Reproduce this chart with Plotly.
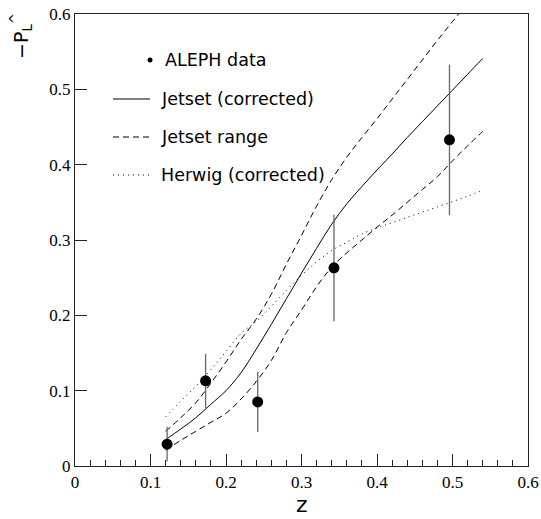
import plotly.graph_objects as go

# ALEPH data
data_z = [0.122, 0.173, 0.242, 0.343, 0.496]
data_y = [0.029, 0.113, 0.085, 0.263, 0.433]
data_err = [0.023, 0.036, 0.040, 0.071, 0.100]

# model curves
curve_z = [0.12, 0.14, 0.16, 0.18, 0.20, 0.22, 0.24, 0.26, 0.28, 0.30, 0.32,
           0.34, 0.36, 0.38, 0.40, 0.42, 0.44, 0.46, 0.48, 0.50, 0.52, 0.54]
jetset = [0.035, 0.049, 0.064, 0.082, 0.100, 0.124, 0.155, 0.188, 0.222, 0.256, 0.289,
          0.321, 0.348, 0.371, 0.393, 0.414, 0.436, 0.457, 0.478, 0.499, 0.520, 0.541]
jetset_hi = [0.046, 0.064, 0.084, 0.110, 0.138, 0.168, 0.195, 0.228, 0.268, 0.306, 0.345,
             0.380, 0.410, 0.436, 0.461, 0.487, 0.513, 0.539, 0.565, 0.590, 0.615, 0.640]
jetset_lo = [0.021, 0.034, 0.046, 0.058, 0.070, 0.089, 0.112, 0.140, 0.177, 0.207, 0.238,
             0.264, 0.283, 0.300, 0.317, 0.333, 0.350, 0.367, 0.384, 0.405, 0.425, 0.444]
herwig = [0.065, 0.086, 0.106, 0.128, 0.152, 0.176, 0.192, 0.212, 0.233, 0.253, 0.271,
          0.286, 0.297, 0.308, 0.316, 0.323, 0.330, 0.337, 0.344, 0.351, 0.358, 0.366]

x_ticks = [0, 0.1, 0.2, 0.3, 0.4, 0.5, 0.6]
y_ticks = [0, 0.1, 0.2, 0.3, 0.4, 0.5, 0.6]

legend_labels = ["ALEPH data", "Jetset (corrected)", "Jetset range", "Herwig (corrected)"]

DASH = "6px,4px"
DOT = "1px,4px"

L, T = 75, 14
PW, PH = 453, 452
W, H = 541, 519

fig = go.Figure()
fig.add_trace(go.Scatter(x=curve_z, y=jetset_hi, mode="lines", line=dict(color="black", width=1, dash=DASH, shape="spline")))
fig.add_trace(go.Scatter(x=curve_z, y=jetset_lo, mode="lines", line=dict(color="black", width=1, dash=DASH, shape="spline")))
fig.add_trace(go.Scatter(x=curve_z, y=herwig, mode="lines", line=dict(color="black", width=1, dash=DOT, shape="spline")))
fig.add_trace(go.Scatter(x=curve_z, y=jetset, mode="lines", line=dict(color="black", width=1, shape="spline")))
fig.add_trace(go.Scatter(x=data_z, y=data_y, mode="markers",
                         marker=dict(color="black", size=11),
                         error_y=dict(type="data", array=data_err, width=0, thickness=1.3, color="#666")))

# legend (drawn by hand); positions given in window pixels
def px_x(p):
    return (p - L) / PW

def px_y(p):
    return 1 - (p - T) / PH

legend_rows = [60, 99, 137, 175]
legend_dash = [None, "solid", DASH, DOT]
for i, (lab, row) in enumerate(zip(legend_labels, legend_rows)):
    fig.add_annotation(xref="paper", yref="paper", x=px_x(163 if i == 0 else 159), y=px_y(row),
                       text=lab, showarrow=False, xanchor="left", yanchor="middle",
                       font=dict(family="DejaVu Sans", size=17.5, color="black"))
    if i == 0:
        fig.add_shape(type="circle", xref="paper", yref="paper",
                      x0=px_x(147.5), x1=px_x(152.5), y0=px_y(row - 2.5), y1=px_y(row + 2.5),
                      fillcolor="black", line=dict(color="black", width=0))
    else:
        fig.add_shape(type="line", xref="paper", yref="paper",
                      x0=px_x(113), x1=px_x(150), y0=px_y(row), y1=px_y(row),
                      line=dict(color="black", width=1, dash=legend_dash[i]))

# axis titles
fig.add_annotation(xref="paper", yref="paper", x=px_x(302), y=px_y(519), text="z",
                   showarrow=False, xanchor="center", yanchor="bottom",
                   font=dict(family="DejaVu Sans", size=22, color="black"))
fig.add_annotation(xref="paper", yref="paper", x=px_x(22), y=px_y(36),
                   text="−P<sub>L</sub><sup>^</sup>", textangle=-90,
                   showarrow=False, xanchor="center", yanchor="middle",
                   font=dict(family="DejaVu Sans", size=19, color="black"))

axis_common = dict(showgrid=False, zeroline=False, showline=True, linecolor="#222", linewidth=1.3,
                   mirror=True, ticks="inside", ticklen=12, tickcolor="#222", tickwidth=1,
                   automargin=False,
                   tickfont=dict(family="Liberation Serif", size=17, color="black"))
fig.update_xaxes(range=[0, 0.6], tickvals=x_ticks, ticktext=[f"{v:g}" for v in x_ticks],
                 minor=dict(ticks="inside", ticklen=6, dtick=0.02, tick0=0, tickcolor="#222"),
                 **axis_common)
fig.update_yaxes(range=[0, 0.6], tickvals=y_ticks, ticktext=[f"{v:g}" for v in y_ticks],
                 **axis_common)
fig.update_layout(width=W, height=H, showlegend=False, autosize=False,
                  margin=dict(l=L, r=W - L - PW, t=T, b=H - T - PH, pad=0),
                  paper_bgcolor="white", plot_bgcolor="white")

fig.write_html("out.html", config={"responsive": False, "displayModeBar": False},
               post_script="document.body.style.margin='0';document.body.style.overflow='hidden';")
